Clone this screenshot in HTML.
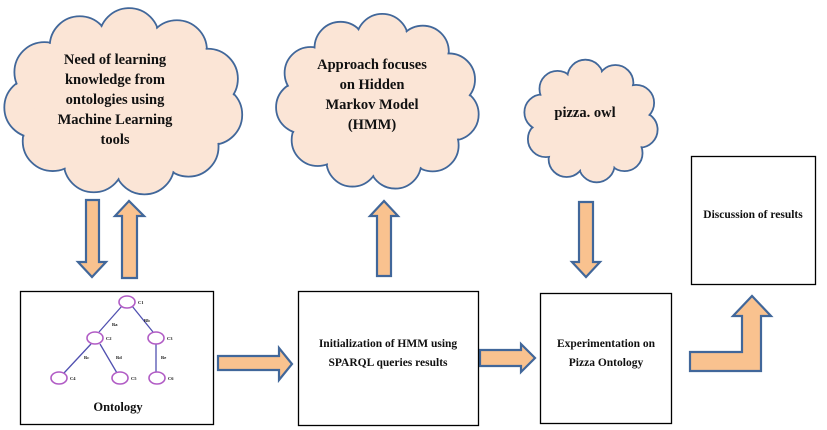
<!DOCTYPE html>
<html><head><meta charset="utf-8"><style>
html,body{margin:0;padding:0;background:#fff;}
svg{display:block;}
text{font-family:"Liberation Serif",serif;font-weight:bold;fill:#111;}
</style></head><body>
<svg id="s" width="827" height="430" viewBox="0 0 827 430" xmlns="http://www.w3.org/2000/svg">
<g id="clouds"></g>
<g font-size="14.5" text-anchor="middle">
<text x="115" y="64">Need of learning</text>
<text x="115" y="84">knowledge from</text>
<text x="115" y="104">ontologies using</text>
<text x="115" y="124">Machine Learning</text>
<text x="115" y="144">tools</text>
<text x="372" y="69">Approach focuses</text>
<text x="372" y="89">on Hidden</text>
<text x="372" y="109">Markov Model</text>
<text x="372" y="129">(HMM)</text>
<text x="585" y="117">pizza. owl</text>
</g>
<g fill="#f9c28f" stroke="#41679a" stroke-width="2.2" stroke-linejoin="miter">
<polygon points="86,200 99,200 99,262 106,262 92,277 78,262 86,262"/>
<polygon points="122,278 137,278 137,216 144,216 129,201 115,216 122,216"/>
<polygon points="377,276 391,276 391,216 398,216 384,201 370,216 377,216"/>
<polygon points="579,202 593,202 593,262 600,262 586,277 572,262 579,262"/>
<polygon points="218,356 279,356 279,348 292,364 279,380 279,370 218,370"/>
<polygon points="480,350 521,350 521,344 535,358 521,372 521,366 480,366"/>
<polygon points="690,352 742,352 742,316 733,316 752,296 771,316 761,316 761,371 690,371"/>
</g>
<g fill="none" stroke="#000" stroke-width="1.3">
<rect x="20.5" y="291.5" width="193" height="133"/>
<rect x="298.5" y="291.5" width="180" height="134"/>
<rect x="540.5" y="293.5" width="131" height="130"/>
<rect x="691.5" y="156.5" width="124" height="128"/>
</g>
<g font-size="11.5" text-anchor="middle">
<text x="388" y="347">Initialization of HMM using</text>
<text x="388" y="366">SPARQL queries results</text>
<text x="606" y="347">Experimentation on</text>
<text x="606" y="366">Pizza Ontology</text>
<text x="753" y="218">Discussion of results</text>
<text x="118" y="411" font-size="12.5">Ontology</text>
</g>
<g stroke="#5050b0" stroke-width="1.3">
<line x1="122" y1="306" x2="99" y2="332"/>
<line x1="132" y1="306" x2="153" y2="332"/>
<line x1="91" y1="344" x2="64" y2="373"/>
<line x1="100" y1="344" x2="117" y2="373"/>
<line x1="156" y1="344" x2="156" y2="372"/>
</g>
<g fill="#fff" stroke="#b15cc5" stroke-width="1.6">
<ellipse cx="127" cy="302" rx="8" ry="6"/>
<ellipse cx="95" cy="338" rx="8" ry="6"/>
<ellipse cx="156" cy="338" rx="8" ry="6"/>
<ellipse cx="59" cy="378" rx="8" ry="6"/>
<ellipse cx="120" cy="378" rx="8" ry="6"/>
<ellipse cx="157" cy="378" rx="8" ry="6"/>
</g>
<g font-size="4.5" text-anchor="start">
<text x="138" y="304">C1</text><text x="106" y="340">C2</text><text x="167" y="340">C3</text>
<text x="70" y="380">C4</text><text x="131" y="380">C5</text><text x="168" y="380">C6</text>
<text x="112" y="326">Ra</text><text x="144" y="322">Rb</text><text x="84" y="359">Rc</text>
<text x="116" y="359">Rd</text><text x="161" y="359">Re</text>
</g>
</svg>
<script>
(function(){
var NS="http://www.w3.org/2000/svg",g=document.getElementById("clouds");
function cloud(cx,cy,rx,ry,n,r){
 var a=[],i;
 for(i=0;i<n;i++){var t=i/n*2*Math.PI+0.2;a.push([cx+(rx-r*0.8)*Math.cos(t),cy+(ry-r*0.8)*Math.sin(t)]);}
 a.forEach(function(p){var c=document.createElementNS(NS,"circle");c.setAttribute("cx",p[0]);c.setAttribute("cy",p[1]);c.setAttribute("r",r);c.setAttribute("fill","#fbe5d6");c.setAttribute("stroke","#41679a");c.setAttribute("stroke-width","1.8");g.appendChild(c);});
 a.forEach(function(p){var c=document.createElementNS(NS,"circle");c.setAttribute("cx",p[0]);c.setAttribute("cy",p[1]);c.setAttribute("r",r-1.2);c.setAttribute("fill","#fbe5d6");g.appendChild(c);});
 var e=document.createElementNS(NS,"ellipse");e.setAttribute("cx",cx);e.setAttribute("cy",cy);e.setAttribute("rx",rx-r*0.8);e.setAttribute("ry",ry-r*0.8);e.setAttribute("fill","#fbe5d6");g.appendChild(e);
}
cloud(124,102,114,88,11,30);
cloud(378,102,97,83,11,26);
cloud(591,121,64,58,10,18);
})();
</script>
</body></html>
